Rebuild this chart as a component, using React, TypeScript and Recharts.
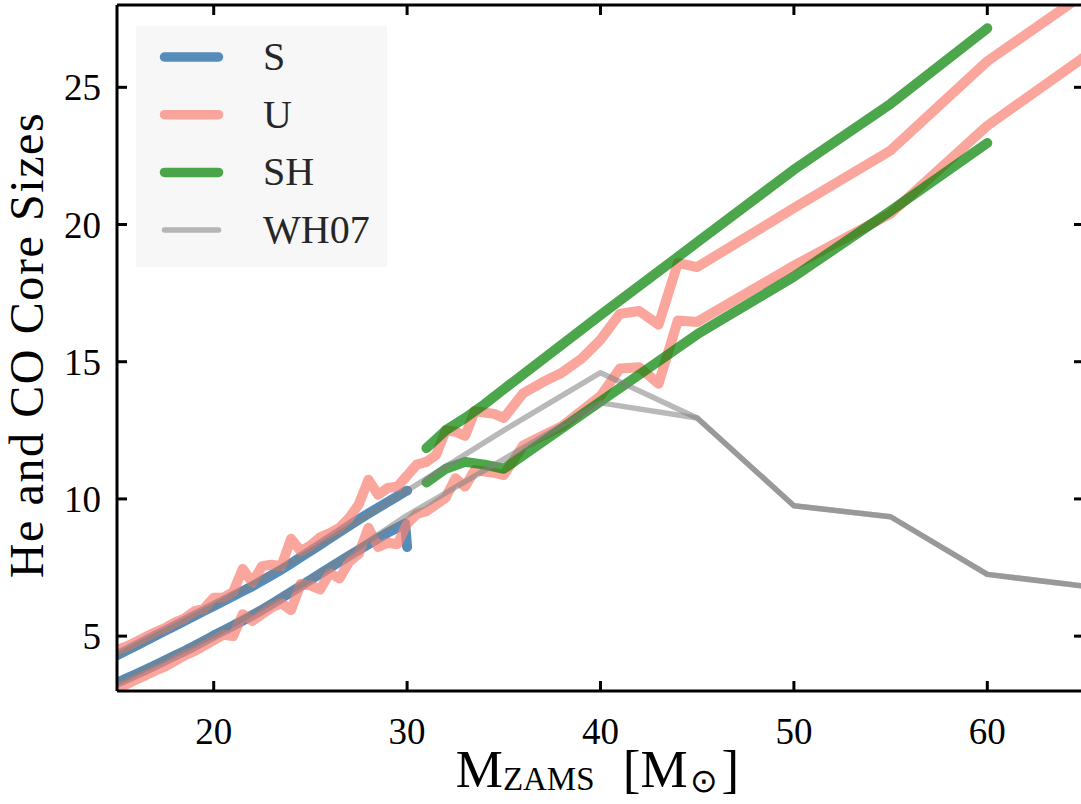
import React from 'react';
import { LineChart, Line, XAxis, YAxis, Legend } from 'recharts';

// ---- S models ----
const sMass = [15, 15.5, 16, 16.5, 17, 17.5, 18, 18.5, 19, 19.5, 20, 20.5, 21, 21.5, 22, 22.5, 23, 23.5, 24, 24.5, 25, 25.5, 26, 26.5, 27, 27.5, 28, 28.5, 29, 29.5, 29.9, 30];
const sHe = [4.3, 4.48, 4.66, 4.84, 5.02, 5.2, 5.38, 5.56, 5.74, 5.92, 6.1, 6.28, 6.46, 6.64, 6.82, 7.02, 7.22, 7.43, 7.65, 7.88, 8.1, 8.33, 8.56, 8.79, 9.02, 9.25, 9.47, 9.68, 9.89, 10.1, 10.27, 10.3];
const sCO = [3.3, 3.46, 3.62, 3.78, 3.95, 4.12, 4.29, 4.46, 4.64, 4.83, 5.02, 5.2, 5.38, 5.57, 5.76, 5.96, 6.17, 6.39, 6.61, 6.83, 7.05, 7.27, 7.49, 7.71, 7.93, 8.14, 8.35, 8.56, 8.77, 8.95, 9.1, 8.25];

// ---- U models ----
const uMass = [15, 15.5, 16, 16.5, 17, 17.5, 18, 18.5, 19, 19.5, 20, 20.5, 21, 21.5, 22, 22.5, 23, 23.5, 24, 24.5, 25, 25.5, 26, 26.5, 27, 27.5, 28, 28.5, 29, 29.5, 30,
  30.5, 31, 31.5, 32, 32.5, 33, 33.5, 34, 34.5, 35, 36, 37, 38, 39, 40, 41, 42, 43, 44, 45, 50, 55, 60, 65];
const uHe = [4.5, 4.62, 4.8, 4.98, 5.15, 5.3, 5.5, 5.65, 5.9, 6.0, 6.4, 6.4, 6.6, 7.45, 6.95, 7.55, 7.6, 7.55, 8.55, 8.1, 8.3, 8.6, 8.75, 8.95, 9.3, 9.8, 10.7, 10.15, 10.4, 10.45, 10.85,
  11.25, 11.35, 11.6, 12.5, 12.45, 12.3, 13.2, 13.15, 13.1, 12.95, 13.85, 14.25, 14.6, 15.1, 15.8, 16.75, 16.85, 16.35, 18.6, 18.45, 20.6, 22.7, 25.95, 28.4];
const uCO = [3.1, 3.25, 3.42, 3.58, 3.75, 3.9, 4.1, 4.3, 4.45, 4.65, 4.85, 5.05, 5.0, 5.8, 5.55, 5.8, 6.05, 6.2, 5.95, 6.9, 6.85, 6.7, 7.3, 7.1, 7.7, 8.0, 8.95, 8.25, 8.4, 8.35, 9.1,
  9.45, 9.55, 9.8, 10.05, 10.75, 10.45, 11.05, 11.0, 10.95, 10.87, 11.95, 12.3, 12.65, 13.2, 13.75, 14.75, 14.8, 14.2, 16.5, 16.45, 18.5, 20.4, 23.6, 26.1];

// ---- SH models ----
const shMass = [31, 32, 33, 34, 35, 40, 45, 50, 55, 60];
const shHe = [11.85, 12.5, 12.95, 13.45, 14.0, 16.7, 19.35, 22.0, 24.4, 27.15];
const shCO = [10.6, 11.1, 11.35, 11.25, 11.1, 13.55, 16.0, 18.1, 20.5, 22.97];

// ---- WH07 ----
const whMass = [15, 20, 25, 30, 35, 40, 45, 50, 55, 60, 65];
const whHe = [4.3, 6.1, 8.1, 10.3, 12.5, 14.6, 12.95, 9.75, 9.35, 7.25, 6.82];
const whCO = [3.3, 5.02, 7.05, 9.4, 11.45, 13.5, 12.95, 9.75, 9.35, 7.25, 6.82];

const xTicks = [20, 30, 40, 50, 60];
const yTicks = [5, 10, 15, 20, 25];

const zip = (xs: number[], ys: number[]) => xs.map((x, i) => ({ x, y: ys[i] }));

const FONT = '"Liberation Serif", "Times New Roman", serif';
const TICK_LEN = 10;

const legendItems = [
  { name: 'S', color: '#4682b4', opacity: 0.92, width: 9.5 },
  { name: 'U', color: '#fa8072', opacity: 0.7, width: 9.5 },
  { name: 'SH', color: '#008000', opacity: 0.7, width: 9.5 },
  { name: 'WH07', color: '#808080', opacity: 0.55, width: 5.5 },
];

const LegendBox = () => (
  <div style={{ width: 251, height: 241, background: '#f7f7f7' }}>
    <svg width={251} height={241} style={{ display: 'block' }}>
      {legendItems.map((it, i) => {
        const cy = 31 + i * 57.7;
        return (
          <g key={it.name}>
            <line x1={28.5} x2={82.5} y1={cy} y2={cy} stroke={it.color} strokeOpacity={it.opacity} strokeWidth={it.width} strokeLinecap="round" />
            <text x={127} y={cy + 13} fontFamily={FONT} fontSize={40} fill="#262626">{it.name}</text>
          </g>
        );
      })}
    </svg>
  </div>
);

const XLabel = (props: any) => {
  const vb = props && props.viewBox && props.viewBox.width ? props.viewBox : { x: 117, y: 691, width: 967, height: 100 };
  const cx = vb.x + vb.width / 2 - 3;
  const y = vb.y + 96;
  return (
    <text x={cx} y={y} textAnchor="middle" fontFamily={FONT} fontSize={53} fill="#000">
      <tspan>M</tspan>
      <tspan fontSize={33} dy={3}>ZAMS</tspan>
      <tspan dy={-3} dx={15}>{' [M'}</tspan>
      <tspan fontSize={33} dy={5} dx={2}>⊙</tspan>
      <tspan dy={-5} dx={4}>]</tspan>
    </text>
  );
};

const YLabel = (props: any) => {
  const vb = props && props.viewBox && props.viewBox.height ? props.viewBox : { x: 17, y: 5, width: 100, height: 686 };
  const x = vb.x + 26;
  const cy = vb.y + vb.height / 2 - 3;
  return (
    <text x={x} y={cy} transform={`rotate(-90, ${x}, ${cy})`} textAnchor="middle" fontFamily={FONT} fontSize={48} letterSpacing={1.6} fill="#000">
      He and CO Core Sizes
    </text>
  );
};

const BottomTick = (props: any) => {
  const { x, y, payload } = props;
  return (
    <g>
      <line x1={x} x2={x} y1={y} y2={y - TICK_LEN} stroke="#000" strokeWidth={3} />
      <text x={x} y={y + 27} dy="0.71em" textAnchor="middle" fontFamily={FONT} fontSize={37} fill="#000">{payload.value}</text>
    </g>
  );
};
const TopTick = (props: any) => {
  const { x, y } = props;
  return <line x1={x} x2={x} y1={y} y2={y + TICK_LEN} stroke="#000" strokeWidth={3} />;
};
const LeftTick = (props: any) => {
  const { x, y, payload } = props;
  return (
    <g>
      <line x1={x} x2={x + TICK_LEN} y1={y} y2={y} stroke="#000" strokeWidth={3} />
      <text x={x - 16} y={y} dy="0.355em" textAnchor="end" fontFamily={FONT} fontSize={37} fill="#000">{payload.value}</text>
    </g>
  );
};
const RightTick = (props: any) => {
  const { x, y } = props;
  return <line x1={x - TICK_LEN} x2={x} y1={y} y2={y} stroke="#000" strokeWidth={3} />;
};

const axisLine = { stroke: '#000', strokeWidth: 3 };

const series = [
  { key: 'sHe', data: zip(sMass, sHe), color: '#4682b4', opacity: 0.92, width: 10 },
  { key: 'sCO', data: zip(sMass, sCO), color: '#4682b4', opacity: 0.92, width: 10 },
  { key: 'uHe', data: zip(uMass, uHe), color: '#fa8072', opacity: 0.7, width: 10 },
  { key: 'uCO', data: zip(uMass, uCO), color: '#fa8072', opacity: 0.7, width: 10 },
  { key: 'shHe', data: zip(shMass, shHe), color: '#008000', opacity: 0.7, width: 10 },
  { key: 'shCO', data: zip(shMass, shCO), color: '#008000', opacity: 0.7, width: 10 },
  { key: 'whHe', data: zip(whMass, whHe), color: '#808080', opacity: 0.55, width: 5.5 },
  { key: 'whCO', data: zip(whMass, whCO), color: '#808080', opacity: 0.55, width: 5.5 },
];

export default function App() {
  return (
    <div style={{ position: 'absolute', left: 0, top: 0, width: 1081, height: 804, overflow: 'hidden', background: '#fff' }}>
      <LineChart width={1100} height={804} margin={{ top: 4, right: 15, bottom: 13, left: 17 }}>
        <XAxis
          xAxisId="b"
          dataKey="x"
          type="number"
          orientation="bottom"
          domain={[15, 65]}
          allowDataOverflow
          ticks={xTicks}
          height={100}
          tickSize={0}
          tickMargin={0}
          axisLine={axisLine}
          tickLine={false}
          tick={<BottomTick />}
          interval={0}
          label={XLabel}
        />
        <XAxis
          xAxisId="t"
          dataKey="x"
          type="number"
          orientation="top"
          domain={[15, 65]}
          allowDataOverflow
          ticks={xTicks}
          height={1}
          tickSize={0}
          tickMargin={0}
          axisLine={axisLine}
          tickLine={false}
          tick={<TopTick />}
          interval={0}
        />
        <YAxis
          yAxisId="l"
          type="number"
          orientation="left"
          domain={[3, 28]}
          allowDataOverflow
          ticks={yTicks}
          width={100}
          tickSize={0}
          tickMargin={0}
          axisLine={axisLine}
          tickLine={false}
          tick={<LeftTick />}
          interval={0}
          label={YLabel}
        />
        <YAxis
          yAxisId="r"
          type="number"
          orientation="right"
          domain={[3, 28]}
          allowDataOverflow
          ticks={yTicks}
          width={1}
          tickSize={0}
          tickMargin={0}
          axisLine={axisLine}
          tickLine={false}
          tick={<RightTick />}
          interval={0}
        />
        <Legend
          content={() => <LegendBox />}
          layout="vertical"
          align="center"
          verticalAlign="middle"
          wrapperStyle={{ left: 136, top: 26, width: 251, height: 241 }}
        />
        {series.map((s) => (
          <Line
            key={s.key}
            xAxisId="b"
            yAxisId="l"
            data={s.data}
            dataKey="y"
            type="linear"
            stroke={s.color}
            strokeOpacity={s.opacity}
            strokeWidth={s.width}
            strokeLinecap="round"
            strokeLinejoin="round"
            dot={false}
            activeDot={false}
            legendType="none"
            isAnimationActive={false}
          />
        ))}
      </LineChart>
    </div>
  );
}
